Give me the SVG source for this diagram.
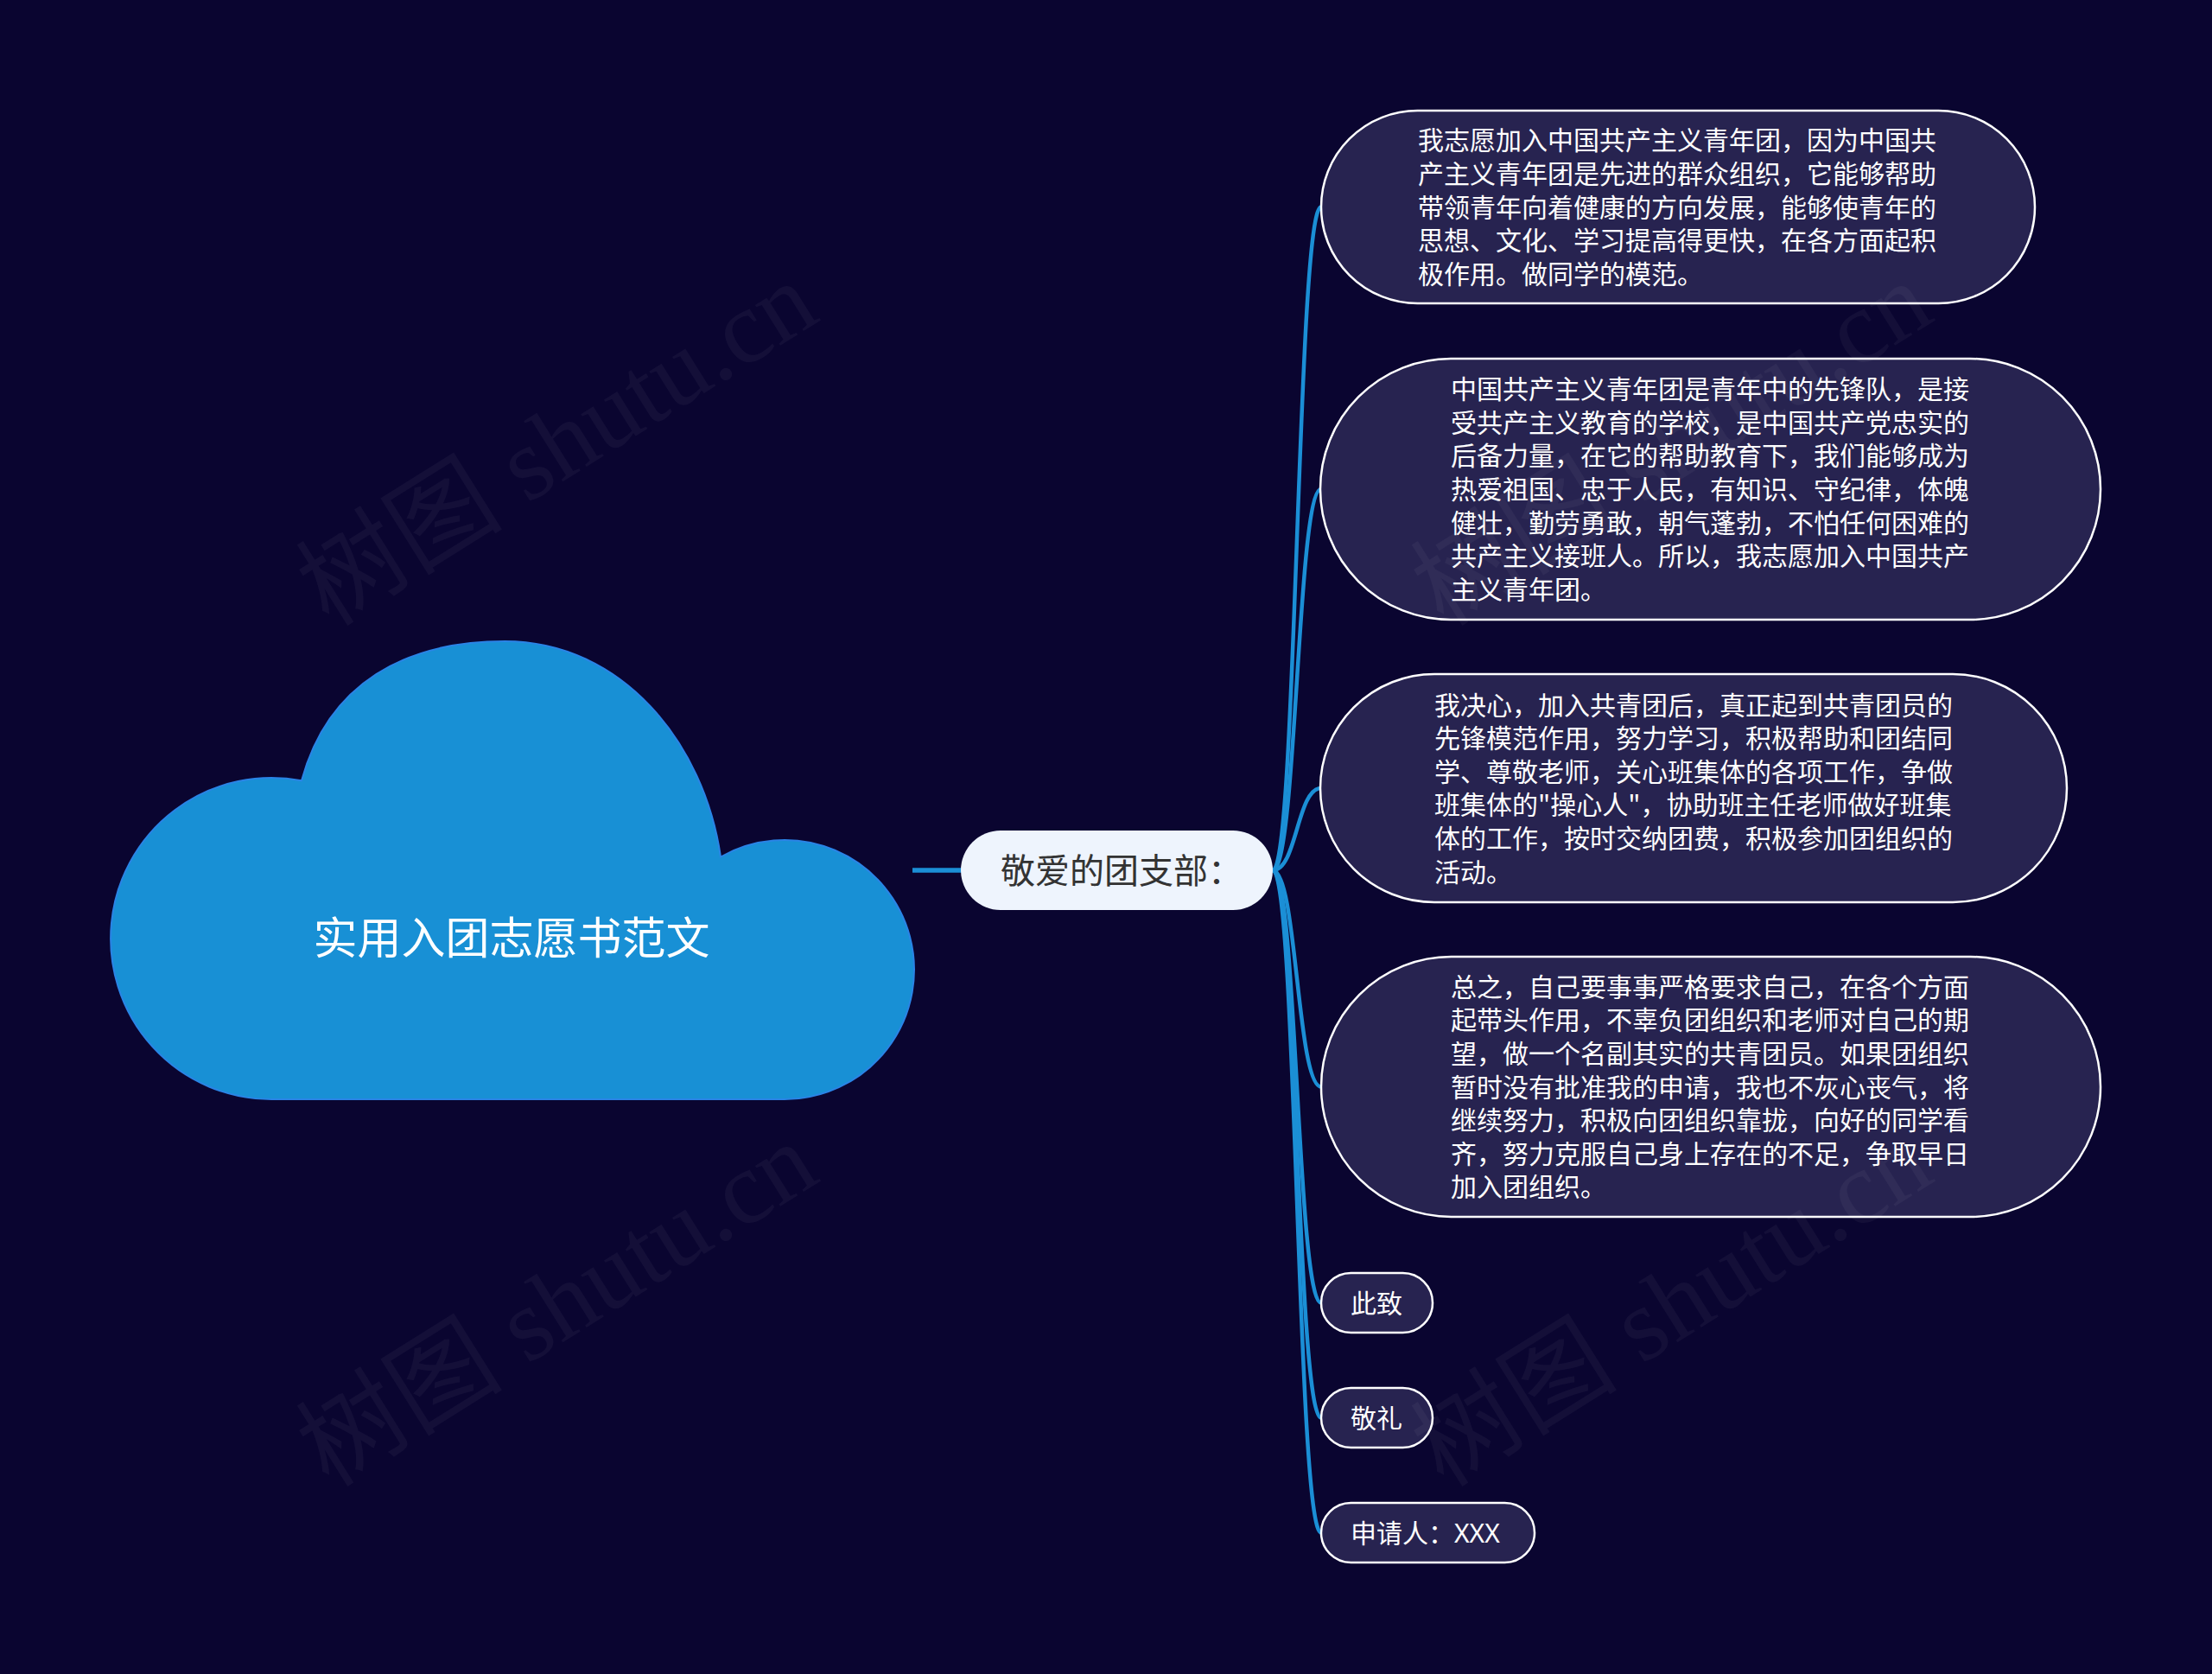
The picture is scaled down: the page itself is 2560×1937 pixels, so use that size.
<svg xmlns="http://www.w3.org/2000/svg" width="2560" height="1937" viewBox="0 0 2560 1937">
<style>
.bg{fill:#0a0530}
.link{fill:none;stroke:#1b8fd6;stroke-width:4.5;stroke-linecap:round}
.child rect{fill:#272350;stroke:#ffffff;stroke-width:2.5}
.t{font-family:'Noto Sans CJK SC','Noto Sans',sans-serif;fill:#ffffff;font-size:30px}
.wm{font-family:'Liberation Serif','Noto Sans CJK SC',serif;font-size:120px;fill:#ffffff;fill-opacity:0.045}
</style>
<rect class="bg" x="0" y="0" width="2560" height="1937"/>

<g id="connectors">
<line class="link" x1="1056" y1="1007" x2="1114" y2="1007" style="stroke-linecap:butt;stroke-width:5.5"/>
<path class="link" d="M1473 1007 C1501 1007 1501 239.5 1529 239.5"/>
<path class="link" d="M1473 1007 C1501 1007 1501 566 1529 566"/>
<path class="link" d="M1473 1007 C1501 1007 1501 912 1529 912"/>
<path class="link" d="M1473 1007 C1501 1007 1501 1257.5 1529 1257.5"/>
<path class="link" d="M1473 1007 C1501 1007 1501 1507.5 1529 1507.5"/>
<path class="link" d="M1473 1007 C1501 1007 1501 1640.5 1529 1640.5"/>
<path class="link" d="M1473 1007 C1501 1007 1501 1773.5 1529 1773.5"/>
</g>

<g id="root">
<path d="M314 1272 A186 186 0 1 1 349 903.3 C380 790 470 742 584 742 C720 742 815 860 834 991.5 A150 150 0 1 1 908 1272 Z" fill="#1890d5" stroke="#2a84e6" stroke-width="2"/>
<text x="592" y="1104" text-anchor="middle" style="font-family:'Noto Sans CJK SC','Noto Sans',sans-serif;font-size:51px;fill:#ffffff">实用入团志愿书范文</text>
</g>

<g id="main">
<rect x="1112" y="961" width="361" height="92" rx="46" ry="46" fill="#eef4fd"/>
<text x="1158" y="1022" style="font-family:'Noto Sans CJK SC','Noto Sans',sans-serif;font-size:40px;fill:#333333">敬爱的团支部：</text>
</g>

<g id="node1" class="child">
<rect x="1529" y="128" width="826" height="223" rx="111.5" ry="111.5"/>
<text class="t">
<tspan x="1641" y="173.3">我志愿加入中国共产主义青年团，因为中国共</tspan>
<tspan x="1641" y="211.9">产主义青年团是先进的群众组织，它能够帮助</tspan>
<tspan x="1641" y="250.5">带领青年向着健康的方向发展，能够使青年的</tspan>
<tspan x="1641" y="289.1">思想、文化、学习提高得更快，在各方面起积</tspan>
<tspan x="1641" y="327.7">极作用。做同学的模范。</tspan>
</text>
</g>

<g id="node2" class="child">
<rect x="1528" y="415" width="903" height="302" rx="151" ry="151"/>
<text class="t">
<tspan x="1679" y="461.2">中国共产主义青年团是青年中的先锋队，是接</tspan>
<tspan x="1679" y="499.8">受共产主义教育的学校，是中国共产党忠实的</tspan>
<tspan x="1679" y="538.4">后备力量，在它的帮助教育下，我们能够成为</tspan>
<tspan x="1679" y="577.0">热爱祖国、忠于人民，有知识、守纪律，体魄</tspan>
<tspan x="1679" y="615.6">健壮，勤劳勇敢，朝气蓬勃，不怕任何困难的</tspan>
<tspan x="1679" y="654.2">共产主义接班人。所以，我志愿加入中国共产</tspan>
<tspan x="1679" y="692.8">主义青年团。</tspan>
</text>
</g>

<g id="node3" class="child">
<rect x="1528" y="780" width="864" height="264" rx="132" ry="132"/>
<text class="t">
<tspan x="1660" y="826.5">我决心，加入共青团后，真正起到共青团员的</tspan>
<tspan x="1660" y="865.1">先锋模范作用，努力学习，积极帮助和团结同</tspan>
<tspan x="1660" y="903.7">学、尊敬老师，关心班集体的各项工作，争做</tspan>
<tspan x="1660" y="942.3">班集体的"操心人"，协助班主任老师做好班集</tspan>
<tspan x="1660" y="980.9">体的工作，按时交纳团费，积极参加团组织的</tspan>
<tspan x="1660" y="1019.5">活动。</tspan>
</text>
</g>

<g id="node4" class="child">
<rect x="1529" y="1107" width="902" height="301" rx="150.5" ry="150.5"/>
<text class="t">
<tspan x="1679" y="1152.7">总之，自己要事事严格要求自己，在各个方面</tspan>
<tspan x="1679" y="1191.3">起带头作用，不辜负团组织和老师对自己的期</tspan>
<tspan x="1679" y="1229.9">望，做一个名副其实的共青团员。如果团组织</tspan>
<tspan x="1679" y="1268.5">暂时没有批准我的申请，我也不灰心丧气，将</tspan>
<tspan x="1679" y="1307.1">继续努力，积极向团组织靠拢，向好的同学看</tspan>
<tspan x="1679" y="1345.7">齐，努力克服自己身上存在的不足，争取早日</tspan>
<tspan x="1679" y="1384.3">加入团组织。</tspan>
</text>
</g>

<g id="node5" class="child">
<rect x="1529" y="1473" width="129" height="69" rx="34.5" ry="34.5"/>
<text class="t" x="1563" y="1519">此致</text>
</g>

<g id="node6" class="child">
<rect x="1529" y="1606" width="129" height="69" rx="34.5" ry="34.5"/>
<text class="t" x="1563" y="1652">敬礼</text>
</g>

<g id="node7" class="child">
<rect x="1529" y="1739" width="247" height="69" rx="34.5" ry="34.5"/>
<text class="t" x="1563" y="1785">申请人：<tspan style="font-family:'Noto Sans',sans-serif">XXX</tspan></text>
</g>

<g id="watermarks">
<text class="wm" text-anchor="middle" transform="translate(645 514) rotate(-32)" y="40">树图 shutu.cn</text>
<text class="wm" text-anchor="middle" transform="translate(1935 514) rotate(-32)" y="40">树图 shutu.cn</text>
<text class="wm" text-anchor="middle" transform="translate(645 1510) rotate(-32)" y="40">树图 shutu.cn</text>
<text class="wm" text-anchor="middle" transform="translate(1935 1510) rotate(-32)" y="40">树图 shutu.cn</text>
</g>
</svg>
